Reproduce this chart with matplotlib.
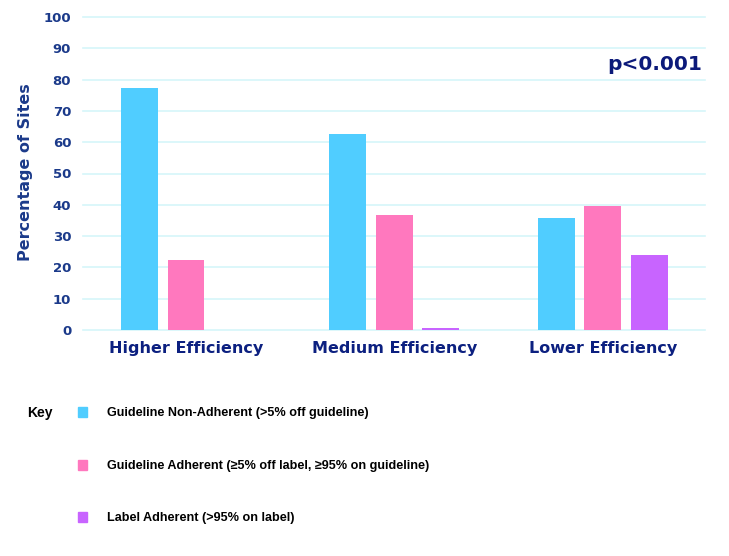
import matplotlib
matplotlib.use("Agg")
import matplotlib.pyplot as plt
from matplotlib.patches import Rectangle
import numpy as np

categories = ["Higher Efficiency", "Medium Efficiency", "Lower Efficiency"]
series_names = [
    "Guideline Non-Adherent (>5% off guideline)",
    "Guideline Adherent (\u22655% off label, \u226595% on guideline)",
    "Label Adherent (>95% on label)",
]
non_adherent = [77.2, 62.6, 35.9]
adherent = [22.5, 36.7, 39.7]
label_adherent = [0.0, 0.6, 24.0]
yticks = [0, 10, 20, 30, 40, 50, 60, 70, 80, 90, 100]
colors = ["#50CDFF", "#FF78BE", "#C864FF"]
navy = "#1B3A8A"

W, H = 729, 556
fig = plt.figure(figsize=(W / 100, H / 100), dpi=100)
ax = fig.add_axes([83 / W, 1 - 330 / H, (705 - 83) / W, (330 - 17) / H])

x = np.arange(len(categories))
step = 0.223
width = 0.177
for i, vals in enumerate([non_adherent, adherent, label_adherent]):
    ax.bar(x + (i - 1) * step, vals, width=width, color=colors[i],
           edgecolor="none", zorder=3)

ax.set_xlim(-0.494, 2.49)
ax.set_ylim(0, 100)
ax.set_yticks(yticks)
ax.set_yticklabels([str(t) for t in yticks], fontsize=9.5, fontweight="bold", color=navy)
ax.set_xticks(x)
ax.set_xticklabels(categories, fontsize=11.5, fontweight="bold", color="#0C2080")
ax.tick_params(axis="both", length=0)
ax.tick_params(axis="y", pad=8.5)
ax.tick_params(axis="x", pad=8)
ax.grid(axis="y", color="#D6F6FA", linewidth=1.2, zorder=0)
for gl in ax.get_ygridlines():
    gl.set_clip_on(False)
ax.set_axisbelow(True)
for s in ax.spines.values():
    s.set_visible(False)
ax.set_ylabel("Percentage of Sites", fontsize=11.5, fontweight="bold", color=navy)
ax.yaxis.set_label_coords((33 - 83) / 622, 0.505)

fig.text(702 / W, 1 - 65 / H, "p<0.001", ha="right", va="center",
         fontsize=14.5, fontweight="bold", color="#0C1A7A")

# legend / key
fig.text(27 / W, 1 - 413 / H, "Key", ha="left", va="center", fontsize=10,
         fontweight="bold", family="Liberation Sans", color="black")
ys = [412, 465, 517]
for i, (name, yy) in enumerate(zip(series_names, ys)):
    fig.patches.append(Rectangle((78 / W, 1 - (yy + 5) / H), 9 / W, 10 / H,
                                 transform=fig.transFigure, color=colors[i]))
    fig.text(107 / W, 1 - (yy + 1) / H, name, ha="left", va="center", fontsize=9.1,
             fontweight="bold", family="Liberation Sans", color="black")

fig.savefig("out.png", dpi=100, facecolor="white")
